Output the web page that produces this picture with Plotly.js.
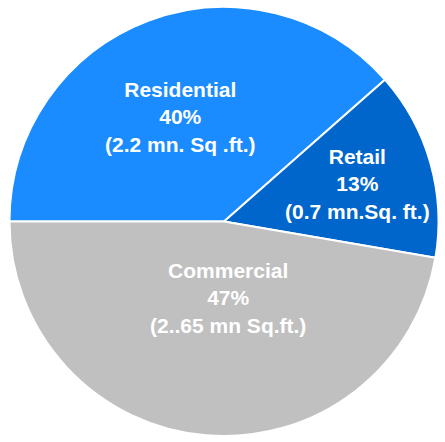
<!DOCTYPE html>
<html>
<head>
<meta charset="utf-8">
<script src="https://cdn.plot.ly/plotly-3.0.1.min.js"></script>
<style>html,body{margin:0;padding:0;background:#fff;}#chart{width:445px;height:442px;}</style>
</head>
<body>
<div id="chart"></div>
<script>
// Data (slice shares; label texts as shown)
const labels = ['Residential', 'Retail', 'Commercial'];
const shares = [38.5, 14.2, 47.3];
const pctText = ['40%', '13%', '47%'];
const areaText = ['(2.2 mn. Sq .ft.)', '(0.7 mn.Sq. ft.)', '(2..65 mn Sq.ft.)'];
const colors = ['#1A8CFF', '#0066CC', '#C0C0C0'];

// Styling / placement (not data)
const W = 445, H = 442;
const domX = [9 / W, 439 / W];
const domY = [6 / H, 435 / H];
const labelRadius = [0.53, 0.647, 0.355];
const labelAngleShift = [2, 0, 8];
const rotationDeg = -90; // first slice starts at 9 o'clock

const trace = {
  type: 'pie',
  labels: labels,
  values: shares,
  sort: false,
  direction: 'clockwise',
  rotation: rotationDeg,
  marker: { colors: colors, line: { color: '#ffffff', width: 2 } },
  textinfo: 'none',
  hoverinfo: 'label+percent',
  domain: { x: domX, y: domY },
  showlegend: false
};

// Label positions derived from pie geometry
const cx = (domX[0] + domX[1]) / 2 * W;
const cyFromBottom = (domY[0] + domY[1]) / 2 * H;
const R = Math.min((domX[1] - domX[0]) * W, (domY[1] - domY[0]) * H) / 2;
const total = shares.reduce((a, b) => a + b, 0);
let cum = 0;
const annotations = labels.map((lab, i) => {
  const midFrac = (cum + shares[i] / 2) / total;
  cum += shares[i];
  const ang = (180 - 360 * midFrac + labelAngleShift[i]) * Math.PI / 180;
  const r = R * labelRadius[i];
  const px = cx + r * Math.cos(ang);
  const py = cyFromBottom + r * Math.sin(ang);
  return {
    xref: 'paper', yref: 'paper',
    x: px / W, y: py / H,
    xanchor: 'center', yanchor: 'middle',
    showarrow: false,
    align: 'center',
    text: lab + '<br>' + pctText[i] + '<br>' + areaText[i],
    font: { family: 'Liberation Sans, Arial, sans-serif', size: 21, color: '#ffffff', weight: 700 }
  };
});

const layout = {
  width: W, height: H,
  margin: { l: 0, r: 0, t: 0, b: 0, pad: 0 },
  paper_bgcolor: '#ffffff',
  plot_bgcolor: '#ffffff',
  showlegend: false,
  annotations: annotations
};

Plotly.newPlot('chart', [trace], layout, { displayModeBar: false, staticPlot: true });
</script>
</body>
</html>
